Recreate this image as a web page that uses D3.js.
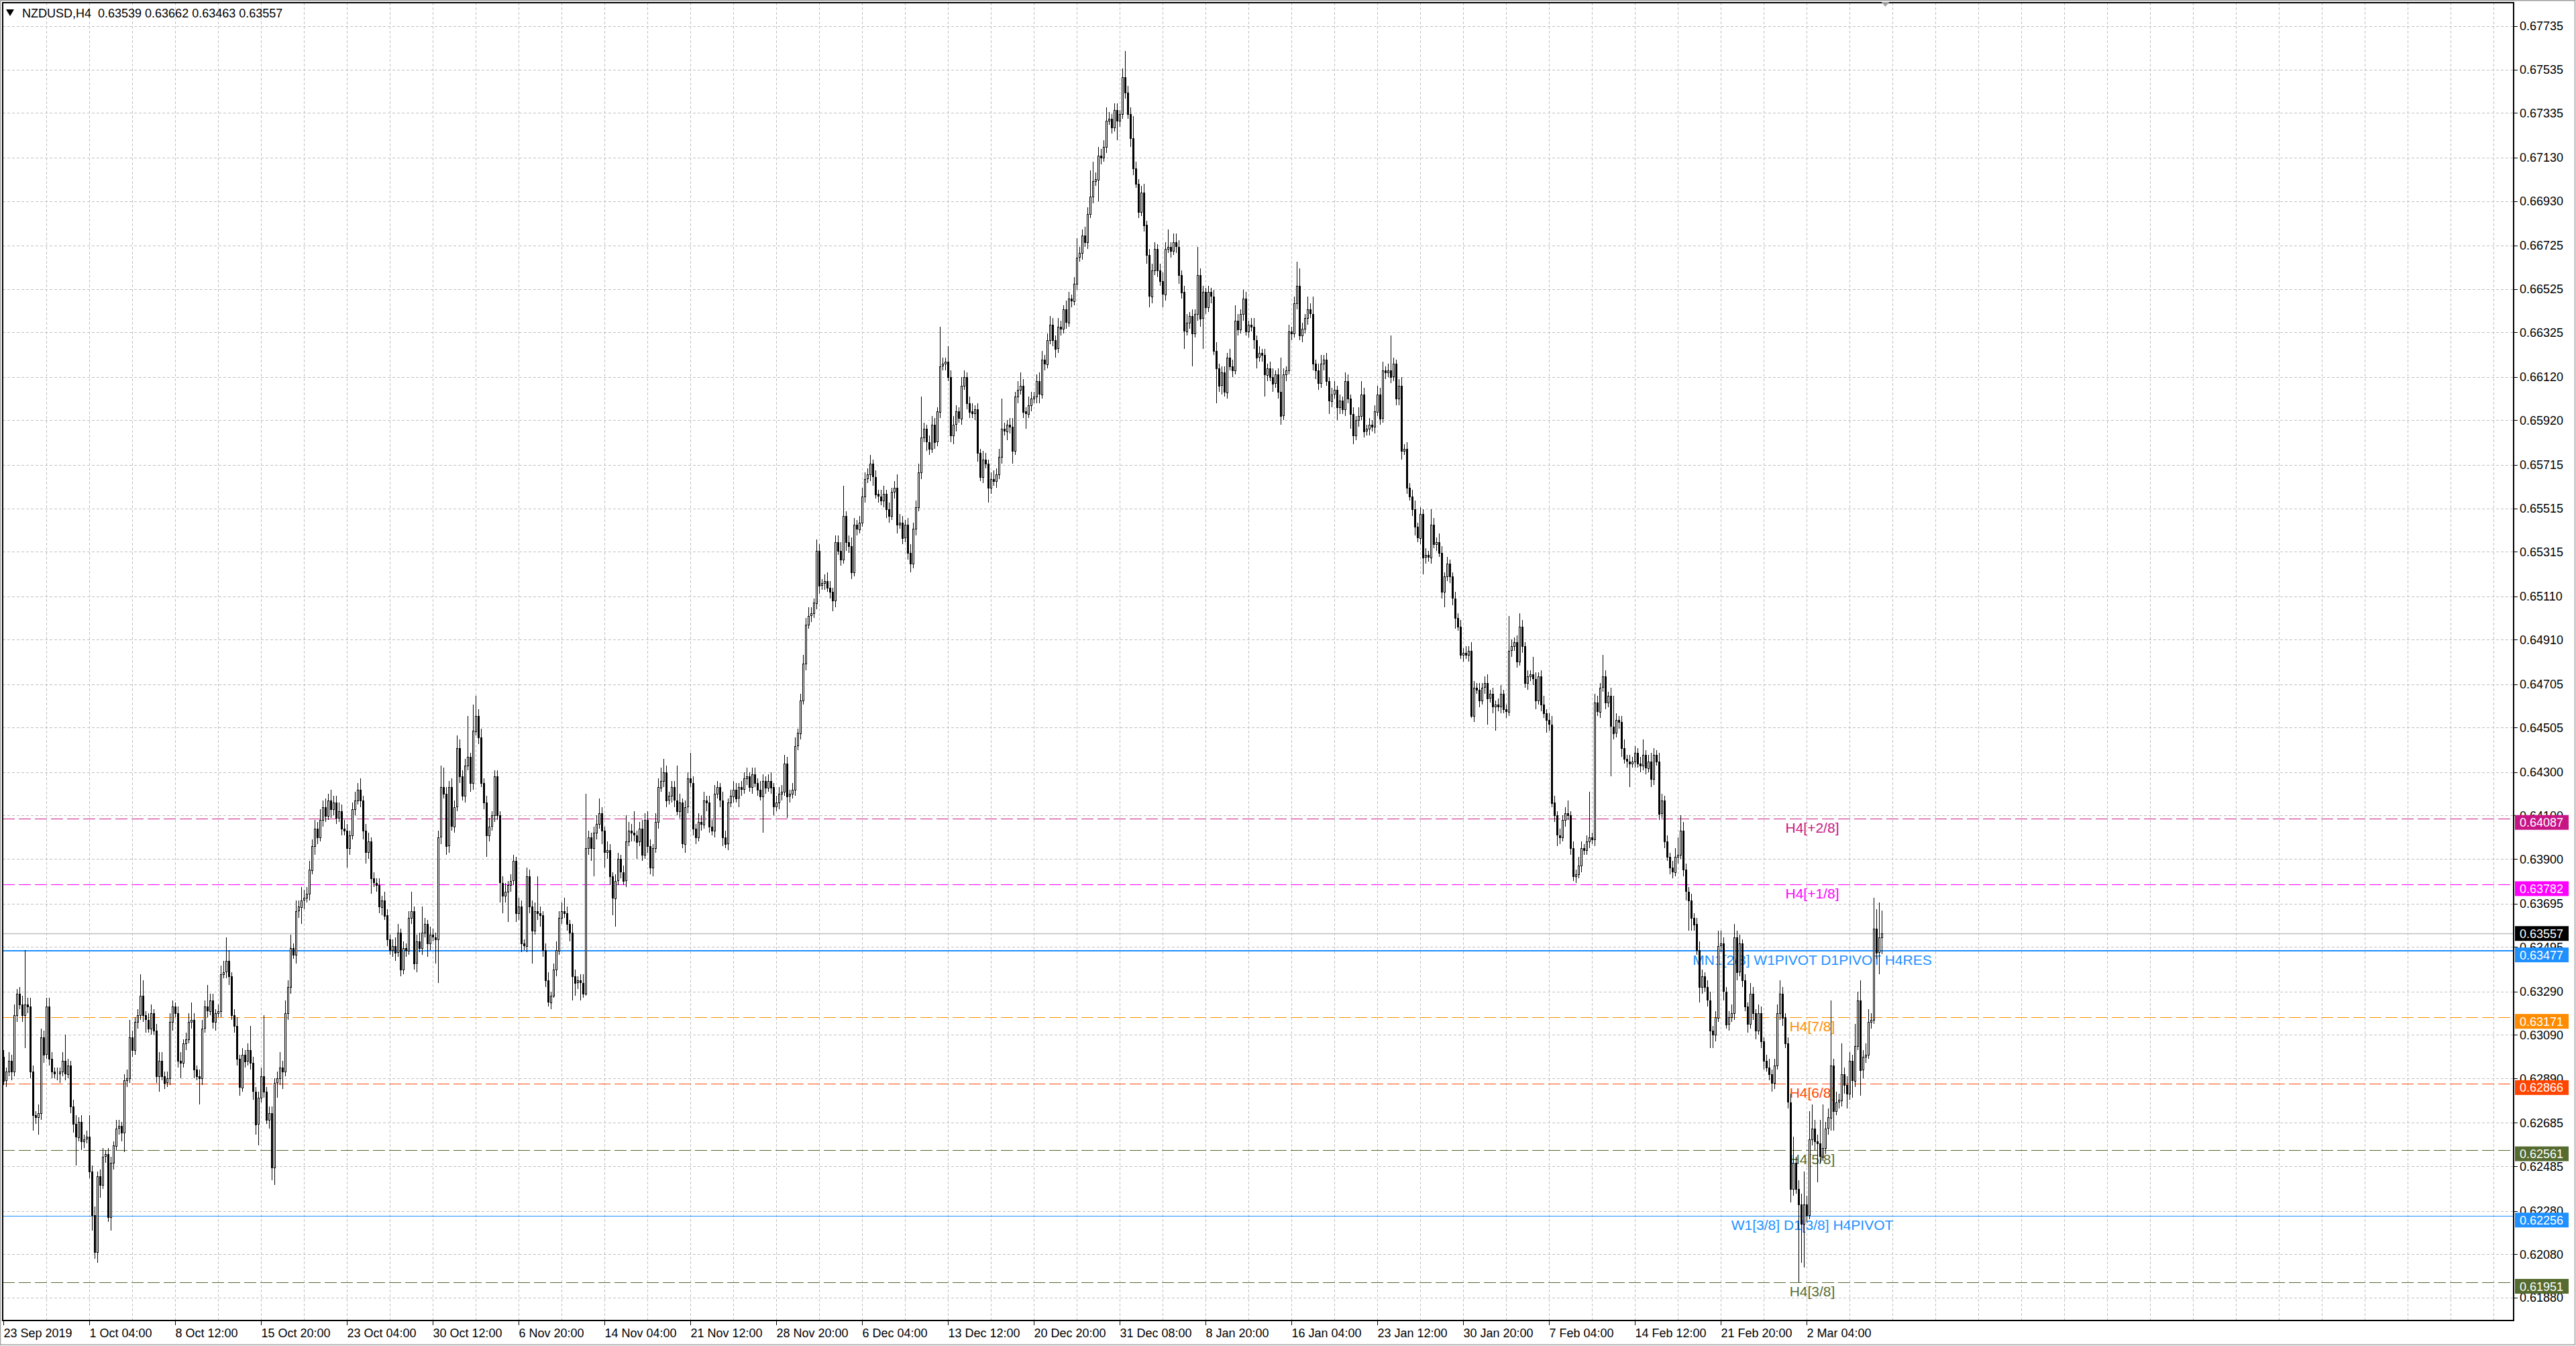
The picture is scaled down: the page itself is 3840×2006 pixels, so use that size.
<!DOCTYPE html>
<html>
<head>
<meta charset="utf-8">
<script src="https://d3js.org/d3.v7.min.js"></script>
<style>
  body { margin: 0; background: #ffffff; overflow: hidden; }
  svg { display: block; font-family: "Liberation Sans", Arial, sans-serif; }
</style>
</head>
<body>
<div id="chart"></div>
<script>
//GLOBALS
W = 3840;
H = 2006;
plotLeft = 4; plotTop = 4; plotRight = 3747; plotBottom = 1968;

symbolTitle = "NZDUSD,H4  0.63539 0.63662 0.63463 0.63557";

// H4 closes in pips (0.0001), bar 0 = 23 Sep 2019 20:00, each bar opens at the previous close
firstOpen = 6299;
closes = [
  6288,6292,6297,6292,6318,6328,6323,6318,6323,6322, // 0
  6292,6272,6271,6273,6308,6300,6322,6298,6292,6291, // 10
  6291,6292,6297,6291,6295,6276,6268,6262,6269,6260, // 20
  6261,6262,6246,6226,6209,6244,6240,6253,6254,6225, // 30
  6250,6258,6266,6267,6264,6288,6289,6308,6302,6315, // 40
  6318,6327,6318,6316,6312,6319,6311,6290,6297,6290, // 50
  6287,6289,6315,6322,6319,6297,6296,6305,6307,6315, // 60
  6316,6293,6290,6289,6312,6322,6320,6325,6315,6319, // 70
  6320,6337,6338,6343,6336,6318,6313,6298,6285,6300, // 80
  6297,6302,6296,6283,6268,6280,6290,6283,6270,6273, // 90
  6248,6287,6289,6294,6292,6319,6331,6349,6346,6366, // 100
  6368,6371,6372,6374,6385,6396,6404,6400,6408,6414, // 110
  6410,6417,6413,6416,6409,6412,6404,6403,6395,6401, // 120
  6413,6417,6422,6417,6403,6393,6398,6381,6379,6378, // 130
  6368,6371,6364,6353,6348,6350,6347,6356,6339,6349, // 140
  6348,6363,6366,6342,6352,6349,6356,6360,6351,6355, // 150
  6354,6353,6400,6423,6420,6396,6423,6405,6414,6441, // 160
  6428,6419,6433,6437,6425,6449,6456,6446,6425,6416, // 170
  6401,6405,6410,6428,6410,6379,6373,6375,6378,6380, // 180
  6389,6365,6368,6351,6350,6382,6368,6357,6366,6365, // 190
  6364,6348,6334,6324,6327,6339,6348,6363,6366,6365, // 200
  6360,6356,6336,6333,6334,6333,6328,6395,6400,6395, // 210
  6402,6406,6411,6403,6393,6394,6382,6372,6380,6390, // 220
  6384,6380,6398,6403,6402,6401,6398,6404,6392,6408, // 230
  6396,6386,6395,6407,6423,6426,6430,6417,6419,6423, // 240
  6417,6412,6416,6397,6414,6427,6425,6404,6400,6407, // 250
  6406,6417,6416,6405,6403,6420,6423,6417,6400,6397, // 260
  6416,6419,6422,6418,6423,6422,6427,6428,6423,6429, // 270
  6425,6422,6419,6426,6423,6426,6423,6414,6416,6420, // 280
  6421,6434,6419,6420,6422,6442,6448,6463,6480,6498, // 290
  6502,6503,6508,6532,6516,6517,6518,6515,6513,6509, // 300
  6536,6532,6528,6548,6536,6534,6522,6544,6542,6545, // 310
  6557,6565,6567,6572,6566,6558,6557,6555,6558,6551, // 320
  6548,6559,6561,6544,6545,6538,6544,6531,6526,6542, // 330
  6552,6568,6584,6588,6582,6579,6590,6582,6596,6617, // 340
  6618,6619,6612,6585,6590,6596,6593,6608,6612,6600, // 350
  6596,6595,6597,6577,6566,6574,6572,6561,6565,6564, // 360
  6567,6575,6588,6587,6590,6589,6578,6603,6606,6608, // 370
  6596,6595,6599,6602,6603,6610,6604,6620,6618,6629, // 380
  6636,6629,6625,6635,6634,6643,6637,6648,6647,6655, // 390
  6667,6669,6677,6674,6687,6695,6702,6703,6714,6713, // 400
  6718,6730,6731,6727,6735,6730,6733,6750,6743,6733, // 410
  6722,6708,6701,6688,6697,6682,6668,6649,6661,6671, // 420
  6661,6656,6650,6671,6672,6670,6674,6672,6659,6651, // 430
  6633,6637,6640,6632,6641,6659,6639,6651,6644,6651, // 440
  6649,6624,6616,6608,6614,6605,6621,6617,6615,6638, // 450
  6634,6641,6648,6633,6636,6635,6629,6621,6623,6622, // 460
  6613,6616,6612,6609,6613,6605,6594,6613,6615,6633, // 470
  6632,6646,6654,6631,6634,6639,6643,6641,6618,6615, // 480
  6609,6618,6620,6610,6601,6604,6606,6598,6601,6597, // 490
  6610,6602,6595,6585,6592,6594,6604,6587,6588,6590, // 500
  6589,6596,6604,6593,6615,6614,6615,6612,6618,6602, // 510
  6608,6578,6579,6561,6557,6551,6543,6538,6549,6529, // 520
  6530,6529,6544,6535,6536,6531,6513,6520,6526,6520, // 530
  6510,6501,6497,6484,6485,6484,6486,6456,6469,6468, // 540
  6463,6469,6471,6464,6466,6460,6461,6460,6466,6459, // 550
  6458,6486,6488,6490,6481,6497,6488,6471,6474,6475, // 560
  6473,6463,6474,6461,6457,6454,6452,6416,6410,6401, // 570
  6400,6408,6411,6410,6395,6382,6383,6387,6395,6394, // 580
  6398,6400,6399,6462,6458,6469,6474,6462,6465,6451, // 590
  6448,6454,6453,6441,6436,6435,6434,6435,6439,6434, // 600
  6433,6438,6432,6435,6427,6438,6435,6411,6417,6398, // 610
  6391,6386,6384,6391,6392,6403,6385,6375,6371,6363, // 620
  6360,6348,6331,6336,6331,6325,6311,6309,6317,6350, // 630
  6351,6329,6314,6317,6319,6354,6338,6351,6334,6322, // 640
  6314,6328,6319,6311,6319,6306,6297,6294,6291,6287, // 650
  6295,6319,6328,6317,6305,6278,6238,6250,6238,6231, // 660
  6222,6231,6226,6261,6266,6260,6259,6253,6257,6266, // 670
  6271,6295,6274,6278,6279,6291,6286,6282,6297,6288, // 680
  6304,6325,6293,6299,6300,6315,6316,6358,6347,6353.9, // 690
  6355.7 // 700
];

// upper shadow above the body, pips
upWick = [
  3,2,4,3,5,2,3,4,25,3,
  4,3,2,4,4,3,4,4,3,2,
  3,2,4,12,3,2,3,4,2,3,
  2,3,10,3,4,2,3,4,2,3,
  3,2,4,3,2,3,4,8,3,2,
  3,10,7,2,3,4,2,3,4,4,
  2,3,4,3,2,3,4,2,3,4,
  8,3,2,3,4,3,10,3,3,2,
  3,4,5,11,5,2,3,4,2,3,
  2,3,11,3,2,3,4,28,2,3,
  3,2,3,7,3,6,3,6,2,5,
  3,6,4,3,4,3,4,3,5,3,
  4,3,5,3,3,4,3,4,3,2,
  3,4,3,5,2,3,4,2,3,2,
  3,2,4,3,2,3,4,4,2,3,
  2,3,9,2,3,4,12,3,2,4,
  3,2,3,10,9,3,3,4,3,6,
  4,3,3,19,2,12,9,3,4,2,
  3,4,2,3,3,2,3,4,2,3,
  3,2,4,3,2,4,3,3,4,16,
  3,2,3,4,2,3,4,3,4,6,
  3,2,4,3,2,3,4,25,3,2,
  3,4,7,3,2,4,3,2,3,3,
  2,3,12,4,3,10,2,3,4,3,
  4,3,2,4,4,6,6,3,2,3,
  3,16,4,2,3,3,12,3,2,4,
  3,4,2,3,3,4,3,2,4,3,
  2,3,4,3,2,3,3,4,2,3,
  3,2,4,3,2,3,4,2,3,3,
  3,4,3,2,3,4,2,3,4,3,
  4,3,2,5,3,2,3,4,3,2,
  3,3,4,14,2,3,4,3,2,3,
  4,3,3,4,2,3,2,3,4,2,
  3,2,3,6,4,3,2,3,4,3,
  3,4,19,3,2,3,4,3,2,18,
  3,2,7,3,4,3,2,4,3,2,
  3,4,2,3,2,4,3,2,3,4,
  3,4,14,3,2,3,4,2,4,6,
  3,2,4,3,2,3,4,4,2,3,
  4,3,2,4,3,2,4,3,2,3,
  9,3,3,4,3,12,9,3,4,3,
  3,6,3,2,3,3,2,4,12,3,
  3,10,3,2,3,4,2,3,3,3,
  2,3,4,3,8,2,4,4,3,2,
  3,4,2,3,2,13,3,3,2,3,
  2,3,4,2,3,3,2,4,3,7,
  3,2,4,3,2,3,4,2,3,2,
  3,2,3,4,2,3,16,3,2,3,
  2,3,11,8,3,2,6,3,8,2,
  3,4,2,3,2,3,4,2,3,2,
  4,3,2,3,2,4,6,3,2,3,
  2,3,4,3,4,2,3,16,3,2,
  3,4,2,3,2,3,4,2,3,2,
  3,2,7,3,2,4,3,2,3,2,
  2,3,2,3,2,3,2,4,3,2,
  3,2,3,4,2,3,2,3,4,2,
  2,16,3,2,3,6,3,2,3,2,
  8,3,2,3,4,2,3,4,3,2,
  3,2,3,6,2,3,2,4,3,2,
  3,21,2,4,3,2,10,3,2,4,
  14,3,2,3,4,2,3,2,3,2,
  3,7,2,3,4,3,2,4,3,2,
  3,2,3,4,8,7,4,3,2,3,
  2,3,4,3,2,3,4,2,3,7,
  6,3,2,3,4,6,3,4,2,3,
  2,5,3,2,4,3,2,3,4,2,
  3,4,6,3,2,3,4,12,3,4,
  5,15,4,13,11,4,3,11,20,3,
  4,30,3,5,3,14,3,4,4,3,
  10,4,9,3,5,6,3,14,9,16,
  10.5
];

// lower shadow below the body, pips
dnWick = [
  2,3,2,4,2,3,2,3,15,3,
  3,7,3,8,3,4,2,3,3,2,
  3,4,2,3,2,3,4,13,2,4,
  3,2,3,7,3,5,6,2,3,2,
  6,3,2,3,4,9,3,2,3,2,
  3,2,3,6,2,3,2,3,7,2,
  3,2,3,4,2,3,7,2,3,2,
  3,4,2,12,3,2,3,2,3,4,
  2,3,2,3,4,2,3,3,4,2,
  3,2,3,4,5,10,2,3,2,4,
  6,8,7,3,8,2,3,3,2,4,
  3,8,4,2,3,2,4,3,2,3,
  3,2,4,3,3,2,3,2,9,3,
  2,3,2,3,4,5,3,7,2,3,
  3,4,2,3,2,3,4,2,3,2,
  3,2,3,3,4,2,3,2,6,3,
  2,11,20,3,2,4,3,2,3,2,
  3,2,3,2,4,3,2,3,2,3,
  10,3,2,3,2,9,8,3,14,3,
  2,4,3,4,2,3,3,15,2,3,
  5,3,3,2,3,1,3,2,3,2,
  3,4,11,6,3,8,2,1,3,6,
  13,3,2,6,7,3,4,8,13,2,
  3,2,3,2,4,3,8,2,3,2,
  3,3,4,2,3,2,3,3,2,3,
  3,2,3,2,4,3,2,3,3,2,
  3,2,4,3,2,3,2,3,4,2,
  3,2,3,2,4,3,2,3,2,3,
  2,3,2,17,3,2,3,4,2,3,
  3,2,10,3,2,3,2,3,2,3,
  2,3,2,3,4,2,3,2,3,5,
  3,2,3,2,4,3,3,2,3,2,
  2,3,2,3,4,2,3,2,3,4,
  3,2,3,4,2,3,2,3,4,2,
  3,2,3,2,4,3,2,3,2,3,
  2,3,2,3,4,3,2,3,2,3,
  3,2,3,4,2,3,2,7,3,2,
  3,2,3,2,4,3,6,2,3,2,
  3,7,2,3,2,3,4,2,3,2,
  2,3,4,2,3,2,3,2,3,2,
  3,2,3,2,3,2,3,2,10,3,
  2,3,2,3,2,9,3,2,3,2,
  4,3,2,3,2,3,4,5,3,2,
  3,2,6,3,2,3,2,3,4,3,
  8,2,3,15,2,3,4,14,3,2,
  3,2,16,3,4,2,3,2,3,2,
  3,2,3,2,3,2,4,5,2,3,
  10,3,2,4,2,3,4,2,3,2,
  3,2,3,2,3,2,3,2,3,4,
  3,2,3,2,6,3,2,6,3,2,
  3,2,7,4,2,3,2,3,2,3,
  2,3,2,3,2,3,2,3,2,3,
  3,4,2,3,2,3,4,2,3,8,
  3,2,3,2,3,2,3,7,2,3,
  3,5,2,2,3,2,3,1,3,2,
  3,2,3,12,2,3,11,2,3,2,
  3,2,3,2,3,2,3,2,3,2,
  3,4,2,3,2,6,3,2,3,5,
  3,2,3,2,3,2,3,2,3,2,
  2,3,2,3,2,3,2,3,2,23,
  3,2,3,4,2,3,11,2,3,2,
  3,2,3,2,4,3,2,3,2,3,
  2,3,3,2,3,2,3,4,14,6,
  3,2,7,3,2,3,8,6,3,2,
  3,4,2,3,2,3,4,2,3,2,
  4,2,3,4,2,3,4,2,3,4,
  3,2,3,4,2,3,6,3,2,36,
  18,20,3,2,3,4,18,3,2,3,
  3,6,9,2,3,3,4,7,3,8,
  3,2,12,4,3,2,3,2,3,10,
  7.6
];

// price scale labels on the right
priceTicks = [0.67735,0.67535,0.67335,0.67130,0.66930,0.66725,0.66525,0.66325,0.66120,0.65920,
              0.65715,0.65515,0.65315,0.65110,0.64910,0.64705,0.64505,0.64300,0.64100,0.63900,
              0.63695,0.63495,0.63290,0.63090,0.62890,0.62685,0.62485,0.62280,0.62080,0.61880];

// time scale labels, one every 32 bars
dateLabels = ["23 Sep 2019","1 Oct 04:00","8 Oct 12:00","15 Oct 20:00","23 Oct 04:00","30 Oct 12:00",
              "6 Nov 20:00","14 Nov 04:00","21 Nov 12:00","28 Nov 20:00","6 Dec 04:00","13 Dec 12:00",
              "20 Dec 20:00","31 Dec 08:00","8 Jan 20:00","16 Jan 04:00","23 Jan 12:00","30 Jan 20:00",
              "7 Feb 04:00","14 Feb 12:00","21 Feb 20:00","2 Mar 04:00"];

// level lines
levelPrices = [0.64087, 0.63782, 0.63477, 0.63171, 0.62866, 0.62561, 0.62256, 0.61951];
levelNames  = ["H4[+2/8]", "H4[+1/8]", "MN1[2/8] W1PIVOT D1PIVOT H4RES", "H4[7/8]",
               "H4[6/8]", "H4[5/8]", "W1[3/8] D1[3/8] H4PIVOT", "H4[3/8]"];
levelColors = ["#C71585", "#FF00FF", "#1E90FF", "#FF8C00", "#FF4500", "#556B2F", "#1E90FF", "#556B2F"];
levelSolid  = [false, false, true, false, false, false, true, false];

lastPrice = 0.63557;

function start() {
  svg = d3.select("#chart")
    .append("svg")
    .attr("width", W)
    .attr("height", H);

  x = d3.scaleLinear().domain([0, 700]).range([5.5, 2805.5]);
  y = d3.scaleLinear().domain([0.61880, 0.67735]).range([1934, 39]);

  svg.append("rect").attr("width", W).attr("height", H).attr("fill", "#ffffff");

  // window frame
  svg.append("rect")
    .attr("x", 0.5).attr("y", 0.75)
    .attr("width", W - 2).attr("height", H - 2.5)
    .attr("fill", "none").attr("stroke", "#a0a0a0").attr("stroke-width", 1.5);

  ////////// grid //////////
  grid = svg.append("g")
    .attr("stroke", "#c0c0c0")
    .attr("stroke-width", 1)
    .attr("stroke-dasharray", "4,3")
    .attr("shape-rendering", "crispEdges");

  vBars = d3.range(16, 1000, 16).filter(function(b) { return x(b) < plotRight - 2; });
  grid.selectAll(".vgrid")
    .data(vBars)
    .join("line")
    .attr("x1", function(d) { return x(d); })
    .attr("x2", function(d) { return x(d); })
    .attr("y1", plotTop)
    .attr("y2", plotBottom);

  grid.selectAll(".hgrid")
    .data(priceTicks)
    .join("line")
    .attr("x1", plotLeft)
    .attr("x2", plotRight)
    .attr("y1", function(d) { return Math.round(y(d)) + 0.5; })
    .attr("y2", function(d) { return Math.round(y(d)) + 0.5; });

  ////////// level lines //////////
  svg.append("line")
    .attr("x1", plotLeft).attr("x2", plotRight)
    .attr("y1", Math.round(y(lastPrice)) + 0.5)
    .attr("y2", Math.round(y(lastPrice)) + 0.5)
    .attr("stroke", "#c0c0c0")
    .attr("stroke-width", 1.5);

  levels = svg.append("g").attr("class", "levels");

  levels.selectAll("line")
    .data(levelPrices)
    .join("line")
    .attr("x1", plotLeft)
    .attr("x2", plotRight)
    .attr("y1", function(d, i) { return i == 2 ? Math.round(y(d)) : Math.round(y(d)) + 0.5; })
    .attr("y2", function(d, i) { return i == 2 ? Math.round(y(d)) : Math.round(y(d)) + 0.5; })
    .attr("stroke", function(d, i) { return levelColors[i]; })
    .attr("stroke-width", function(d, i) { return i == 2 ? 2 : 1; })
    .attr("shape-rendering", "crispEdges")
    .attr("stroke-dasharray", function(d, i) { return levelSolid[i] ? null : "18,6"; });

  levels.selectAll("text")
    .data(levelPrices)
    .join("text")
    .attr("x", x(674))
    .attr("y", function(d) { return y(d) + 21; })
    .attr("text-anchor", "middle")
    .attr("font-size", "21px")
    .attr("fill", function(d, i) { return levelColors[i]; })
    .text(function(d, i) { return levelNames[i]; });

  ////////// candles //////////
  bars = closes.map(function(c, i) {
    var o = i == 0 ? firstOpen : closes[i - 1];
    return {
      i: i,
      o: o / 10000,
      c: c / 10000,
      h: (Math.max(o, c) + (upWick[i] || 0)) / 10000,
      l: (Math.min(o, c) - (dnWick[i] || 0)) / 10000
    };
  });

  candles = svg.append("g")
    .attr("class", "candles")
    .attr("shape-rendering", "crispEdges");

  candles.selectAll(".wick")
    .data(bars)
    .join("line")
    .attr("class", "wick")
    .attr("x1", function(d) { return x(d.i); })
    .attr("x2", function(d) { return x(d.i); })
    .attr("y1", function(d) { return Math.round(y(d.h)); })
    .attr("y2", function(d) { return Math.round(y(d.l)); })
    .attr("stroke", "#000000")
    .attr("stroke-width", 1);

  candles.selectAll(".body")
    .data(bars)
    .join("rect")
    .attr("class", "body")
    .attr("x", function(d) { return x(d.i) - 1; })
    .attr("y", function(d) { return Math.round(y(Math.max(d.o, d.c))) + 0.5; })
    .attr("width", 2)
    .attr("height", function(d) { return Math.round(Math.abs(y(d.o) - y(d.c))); })
    .attr("fill", function(d) { return d.c >= d.o ? "#ffffff" : "#000000"; })
    .attr("stroke", "#000000")
    .attr("stroke-width", 1);

  ////////// frame and axes //////////
  svg.append("rect")
    .attr("x", plotLeft).attr("y", plotTop)
    .attr("width", plotRight - plotLeft)
    .attr("height", plotBottom - plotTop)
    .attr("fill", "none")
    .attr("stroke", "#000000")
    .attr("stroke-width", 2);

  yAxis = svg.append("g").attr("class", "y-axis");

  yAxis.selectAll("line")
    .data(priceTicks)
    .join("line")
    .attr("x1", plotRight)
    .attr("x2", plotRight + 6)
    .attr("y1", function(d) { return Math.round(y(d)) + 0.5; })
    .attr("y2", function(d) { return Math.round(y(d)) + 0.5; })
    .attr("stroke", "#000000");

  yAxis.selectAll("text")
    .data(priceTicks)
    .join("text")
    .attr("x", plotRight + 9)
    .attr("y", function(d) { return y(d); })
    .attr("dy", "0.36em")
    .attr("font-size", "18px")
    .attr("fill", "#000000")
    .text(function(d) { return d.toFixed(5); });

  // coloured price boxes: line labels sit a little under their line, the bid box is centred
  boxPrices = levelPrices.concat([lastPrice]);
  boxColors = levelColors.concat(["#000000"]);

  boxes = svg.append("g").attr("class", "price-boxes")
    .selectAll("g")
    .data(boxPrices)
    .join("g")
    .attr("transform", function(d, i) {
      var shift = i < levelPrices.length ? 6 : 0;
      return "translate(" + (plotRight + 2) + "," + (y(d) + shift) + ")";
    });

  boxes.append("rect")
    .attr("x", 0)
    .attr("y", -11)
    .attr("width", 80)
    .attr("height", 22)
    .attr("fill", function(d, i) { return boxColors[i]; });

  boxes.append("text")
    .attr("x", 7)
    .attr("dy", "0.36em")
    .attr("font-size", "18px")
    .attr("fill", "#ffffff")
    .text(function(d) { return d.toFixed(5); });

  xAxis = svg.append("g").attr("class", "x-axis");

  xAxis.selectAll("line")
    .data(dateLabels)
    .join("line")
    .attr("x1", function(d, i) { return x(i * 32); })
    .attr("x2", function(d, i) { return x(i * 32); })
    .attr("y1", plotBottom)
    .attr("y2", plotBottom + 7)
    .attr("stroke", "#000000")
    .attr("shape-rendering", "crispEdges");

  xAxis.selectAll("text")
    .data(dateLabels)
    .join("text")
    .attr("x", function(d, i) { return x(i * 32); })
    .attr("y", 1993)
    .attr("font-size", "18px")
    .attr("fill", "#000000")
    .text(function(d) { return d; });

  ////////// header //////////
  svg.append("path")
    .attr("d", "M9,14 L21,14 L15,24 Z")
    .attr("fill", "#000000");

  svg.append("text")
    .attr("x", 33)
    .attr("y", 25.5)
    .attr("font-size", "18px")
    .attr("fill", "#000000")
    .style("white-space", "pre")
    .text(symbolTitle);

  // chart shift marker
  svg.append("path")
    .attr("d", "M" + (x(700) - 1) + ",3 L" + (x(700) + 11) + ",3 L" + (x(700) + 5) + ",10 Z")
    .attr("fill", "#a0a0a0");
}

function init() {
  start();
}

window.onload = init;
</script>
</body>
</html>
